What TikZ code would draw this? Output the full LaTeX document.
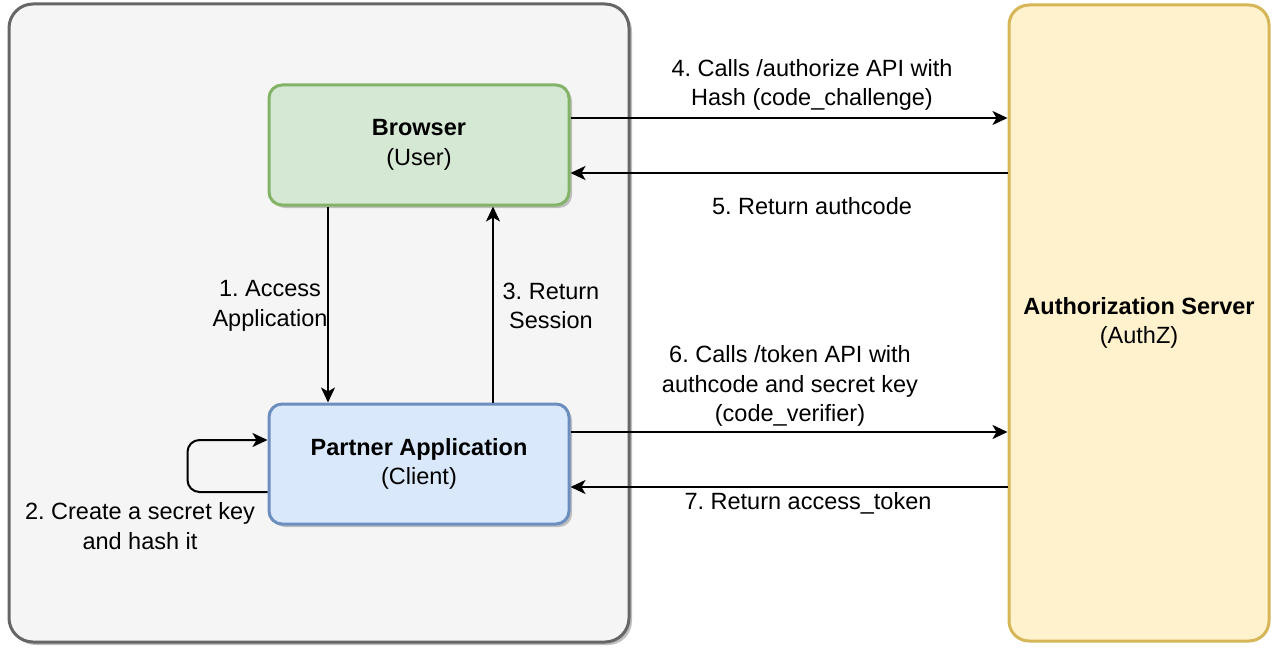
\documentclass[tikz,border=0pt]{standalone}
\usepackage{fontspec}
\setmainfont{Liberation Sans}
\usepackage{tikz}
\usetikzlibrary{calc,positioning,arrows.meta,shapes,shadows}
\definecolor{boxgrey}{HTML}{F5F5F5}
\definecolor{linegrey}{HTML}{666666}
\definecolor{greenfill}{HTML}{D5E8D4}
\definecolor{greenline}{HTML}{82B366}
\definecolor{bluefill}{HTML}{DAE8FC}
\definecolor{blueline}{HTML}{6C8EBF}
\definecolor{yellowfill}{HTML}{FFF2CC}
\definecolor{yellowline}{HTML}{D6B656}
\frenchspacing
\tikzset{
  >={Stealth[length=15pt,width=14pt,inset=4pt]},
  container/.style={
    rectangle,
    rounded corners=24pt,
    fill=boxgrey,
    draw=linegrey, line width=3pt,
    drop shadow={shadow xshift=3pt,shadow yshift=-3pt,fill=black!25,opacity=1}},
  actor/.style={
    rectangle,
    rounded corners=13pt,
    line width=3pt,
    minimum width=300pt,
    minimum height=120pt,
    align=center,
    drop shadow={shadow xshift=3pt,shadow yshift=-3pt,fill=black!25,opacity=1}},
  server/.style={
    rectangle,
    rounded corners=20pt,
    fill=yellowfill,
    draw=yellowline, line width=3pt,
    minimum width=260pt,
    minimum height=636pt,
    align=center},
  line/.style={draw, line width=2pt, ->},
  lbl/.style={align=center},
}
\begin{document}
\begin{tikzpicture}[x=1pt,y=-1pt,
  every node/.style={font=\fontsize{23.5}{29.5}\selectfont}]
  \useasboundingbox (0,0) rectangle (1276,650);
  \node[container, minimum width=620pt, minimum height=638pt] (client) at (319,323) {};
  \node[server] (authz) at (1139,323) {\textbf{Authorization Server}\\(AuthZ)};
  \node[actor, fill=greenfill, draw=greenline] (browser) at (419,145) {\textbf{Browser}\\(User)};
  \node[actor, fill=bluefill, draw=blueline] (partner) at (419,464) {\textbf{Partner Application}\\(Client)};

  % browser <-> partner
  \draw[line] ([xshift=-91pt]browser.south) -- ([xshift=-91pt]partner.north);
  \draw[line] ([xshift=74pt]partner.north) -- ([xshift=74pt]browser.south);
  \node[lbl] (access) at (270,306) {1. Access\\Application};
  \node[lbl] (session) at (551,306) {3. Return\\Session};

  % self loop
  \draw[line, rounded corners=12pt] ([yshift=-28pt]partner.west) -- ++(-80,0)
    |- ([yshift=24pt]partner.west);
  \node[lbl] (secret) at (140,526) {2. Create a secret key\\and hash it};

  % browser <-> authz
  \draw[line] ([yshift=27pt]browser.east) -- ([yshift=27pt]browser.east -| authz.west);
  \draw[line] ([yshift=-28pt]browser.east -| authz.west) -- ([yshift=-28pt]browser.east);
  \node[lbl] (authorize) at (812,85) {4. Calls /authorize API with\\Hash (code\_challenge)};
  \node[lbl] (authcode) at (812,206) {5. Return authcode};

  % partner <-> authz
  \draw[line] ([yshift=32pt]partner.east) -- ([yshift=32pt]partner.east -| authz.west);
  \draw[line] ([yshift=-23pt]partner.east -| authz.west) -- ([yshift=-23pt]partner.east);
  \node[lbl] (token) at (790,386) {6. Calls /token API with\\authcode and secret key\\(code\_verifier)};
  \node[lbl] (access token) at (808,503) {7. Return access\_token};
\end{tikzpicture}
\end{document}
